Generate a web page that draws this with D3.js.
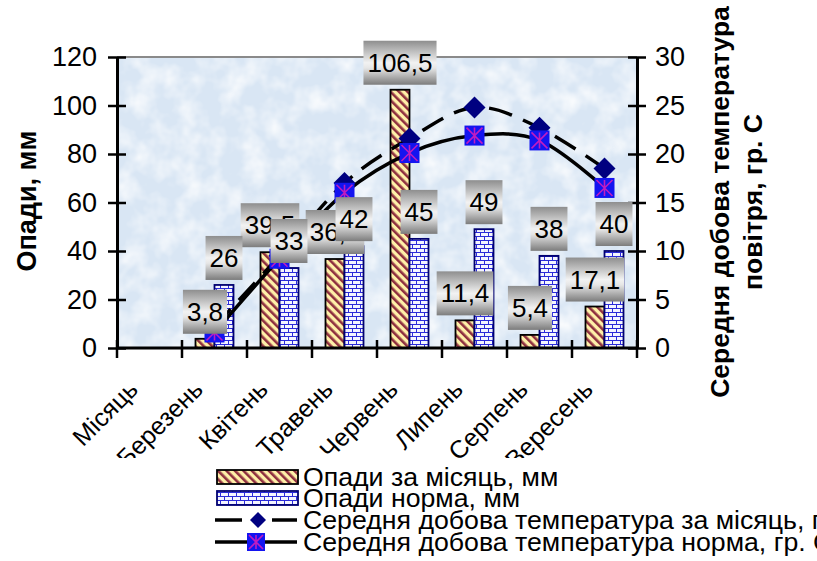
<!DOCTYPE html>
<html>
<head>
<meta charset="utf-8">
<script src="https://cdn.jsdelivr.net/npm/d3@7"></script>
<style>
  body { margin: 0; background: #fff; }
  svg text { font-family: "Liberation Sans", Arial, sans-serif; }
</style>
</head>
<body>
<div id="chart"></div>
<script>
// data
const categories = ["Місяць", "Березень", "Квітень", "Травень", "Червень", "Липень", "Серпень", "Вересень"];
const precipActual = [null, 3.8, 39.5, 36.7, 106.5, 11.4, 5.4, 17.1];
const precipNorm = [null, 26, 33, 42, 45, 49, 38, 40];
const tempActual = [null, 2.2, 9.5, 17.0, 21.6, 24.8, 22.7, 18.5];
const tempNorm = [null, 1.6, 9.2, 16.0, 20.1, 21.9, 21.4, 16.5];
const leftTicks = [0, 20, 40, 60, 80, 100, 120];
const rightTicks = [0, 5, 10, 15, 20, 25, 30];
const legendLabels = [
  "Опади за місяць, мм",
  "Опади норма, мм",
  "Середня добова температура за місяць, гр. С",
  "Середня добова температура норма, гр. С"
];

let w = 817, h = 561;
let pLeft = 117, pRight = 637, pTop = 57, pBottom = 348;

let svg = d3.select("#chart").append("svg")
  .attr("width", w)
  .attr("height", h)

let defs = svg.append("defs")

// diagonal stripes for monthly precipitation
let stripes = defs.append("pattern")
  .attr("id", "stripes")
  .attr("patternUnits", "userSpaceOnUse")
  .attr("width", 6).attr("height", 6)
  .attr("patternTransform", "rotate(-45)")
stripes.append("rect").attr("width", 6).attr("height", 6).attr("fill", "#fff0a8")
stripes.append("rect").attr("x", 0).attr("width", 2.6).attr("height", 6).attr("fill", "#8e2f3f")

// bricks for the norm
let bricks = defs.append("pattern")
  .attr("id", "bricks")
  .attr("patternUnits", "userSpaceOnUse")
  .attr("width", 8).attr("height", 8)
bricks.append("rect").attr("width", 8).attr("height", 8).attr("fill", "#f4f5ff")
bricks.append("path")
  .attr("d", "M0,0.5H8M0,4.5H8M0.5,0.5V4.5M4.5,4.5V8")
  .attr("stroke", "#2b2bd8").attr("stroke-width", 1).attr("fill", "none")

let grad = defs.append("linearGradient")
  .attr("id", "labelGrad")
  .attr("x1", 0).attr("y1", 0).attr("x2", 0).attr("y2", 1)
grad.append("stop").attr("offset", "0%").attr("stop-color", "#8e8e8e")
grad.append("stop").attr("offset", "50%").attr("stop-color", "#f2f2f2")
grad.append("stop").attr("offset", "62%").attr("stop-color", "#e6e6e6")
grad.append("stop").attr("offset", "100%").attr("stop-color", "#7c7c7c")

// soft mottled texture for the plot area
let tex = defs.append("filter").attr("id", "texture")
  .attr("x", 0).attr("y", 0).attr("width", 1).attr("height", 1)
tex.append("feTurbulence")
  .attr("type", "fractalNoise").attr("baseFrequency", 0.045)
  .attr("numOctaves", 3).attr("seed", 4)
tex.append("feColorMatrix")
  .attr("type", "matrix")
  .attr("values", "0 0 0 0 1  0 0 0 0 1  0 0 0 0 1  1.6 0 0 0 -0.6")

let x = d3.scaleBand().domain(categories).range([pLeft, pRight])
let xs = d3.scaleBand().domain(["a", "n"]).range([13.5, 51.5])
let yL = d3.scaleLinear().domain([0, 120]).range([pBottom, pTop])
let yR = d3.scaleLinear().domain([0, 30]).range([pBottom, pTop])

// plot area
svg.append("rect")
  .attr("x", pLeft).attr("y", pTop)
  .attr("width", pRight - pLeft).attr("height", pBottom - pTop)
  .attr("fill", "#d9e6f4")
svg.append("rect")
  .attr("x", pLeft).attr("y", pTop)
  .attr("width", pRight - pLeft).attr("height", pBottom - pTop)
  .attr("filter", "url(#texture)")
svg.append("line")
  .attr("x1", pLeft).attr("x2", pRight).attr("y1", pTop).attr("y2", pTop)
  .attr("stroke", "#8a8a8a").attr("stroke-width", 2)

// bars
let barData = [];
categories.forEach(function(c, i) {
  if (precipActual[i] != null) barData.push({cat: c, key: "a", v: precipActual[i]});
  if (precipNorm[i] != null) barData.push({cat: c, key: "n", v: precipNorm[i]});
});

svg.append("g").selectAll("rect")
  .data(barData)
  .join("rect")
  .attr("x", d => x(d.cat) + xs(d.key))
  .attr("y", d => yL(d.v))
  .attr("width", xs.bandwidth())
  .attr("height", d => yL(0) - yL(d.v))
  .attr("fill", d => d.key === "a" ? "url(#stripes)" : "url(#bricks)")
  .attr("stroke", d => d.key === "a" ? "#000" : "#000070")
  .attr("stroke-width", 1.8)

// temperature lines
let line = d3.line()
  .defined(d => d.v != null)
  .x(d => x(d.cat) + x.bandwidth() / 2)
  .y(d => yR(d.v))
  .curve(d3.curveCardinal.tension(0))

let tA = categories.map((c, i) => ({cat: c, v: tempActual[i]}));
let tN = categories.map((c, i) => ({cat: c, v: tempNorm[i]}));

svg.append("path")
  .datum(tN)
  .attr("d", line)
  .attr("fill", "none").attr("stroke", "#000").attr("stroke-width", 3.5)

svg.append("path")
  .datum(tA)
  .attr("d", line)
  .attr("fill", "none").attr("stroke", "#000").attr("stroke-width", 3.5)
  .attr("stroke-dasharray", "24,12")

function diamond(g, cx, cy, r) {
  g.append("path")
    .attr("d", `M${cx},${cy - r}L${cx + r},${cy}L${cx},${cy + r}L${cx - r},${cy}Z`)
    .attr("fill", "#000080")
}

function starSquare(g, cx, cy, s) {
  let hs = s / 2;
  g.append("rect")
    .attr("x", cx - hs).attr("y", cy - hs).attr("width", s).attr("height", s)
    .attr("fill", "#1414f0")
  let k = hs - 2;
  g.append("path")
    .attr("d", `M${cx},${cy - k}V${cy + k}M${cx - k},${cy - k}L${cx + k},${cy + k}M${cx + k},${cy - k}L${cx - k},${cy + k}`)
    .attr("stroke", "#c01cc0").attr("stroke-width", 1.6)
}

let markers = svg.append("g")
tA.filter(d => d.v != null).forEach(function(d) {
  diamond(markers, x(d.cat) + x.bandwidth() / 2, yR(d.v), 11)
});
tN.filter(d => d.v != null).forEach(function(d) {
  starSquare(markers, x(d.cat) + x.bandwidth() / 2, yR(d.v), 20)
});

// axes
let axisL = svg.append("g").attr("transform", `translate(${pLeft},0)`)
  .call(d3.axisLeft(yL).tickValues(leftTicks).tickSize(0).tickPadding(20))
let axisR = svg.append("g").attr("transform", `translate(${pRight},0)`)
  .call(d3.axisRight(yR).tickValues(rightTicks).tickSize(0).tickPadding(18))
;[axisL, axisR].forEach(function(a) {
  a.select(".domain").attr("stroke", "#000").attr("stroke-width", 3)
  a.selectAll(".tick text").attr("font-size", 27).attr("fill", "#000")
    .attr("font-family", "Liberation Sans, Arial, sans-serif")
  a.selectAll(".tick").append("line")
    .attr("x1", -9).attr("x2", 9).attr("stroke", "#000").attr("stroke-width", 2.5)
});

let axisB = svg.append("g")
axisB.append("line")
  .attr("x1", pLeft).attr("x2", pRight).attr("y1", pBottom).attr("y2", pBottom)
  .attr("stroke", "#000").attr("stroke-width", 3)
axisB.selectAll(".tk")
  .data(categories.concat(["end"]))
  .join("line")
  .attr("class", "tk")
  .attr("x1", (d, i) => pLeft + i * x.step()).attr("x2", (d, i) => pLeft + i * x.step())
  .attr("y1", pBottom - 8).attr("y2", pBottom + 10)
  .attr("stroke", "#000").attr("stroke-width", 2.5)
axisB.selectAll(".lbl")
  .data(categories)
  .join("text")
  .attr("class", "lbl")
  .attr("transform", d => `translate(${x(d) + x.bandwidth() / 2 - 10},391) rotate(-45)`)
  .attr("text-anchor", "end")
  .attr("font-size", 25)
  .text(d => d)

// data labels: actual first, norm over them
let labels = svg.append("g")
function fmt(v) { return String(v).replace(".", ","); }
["a", "n"].forEach(function(key) {
  barData.filter(d => d.key === key).forEach(function(d) {
    let cx = x(d.cat) + xs(d.key) + xs.bandwidth() / 2;
    let by = yL(d.v) - 5;
    let g = labels.append("g")
    let box = g.append("rect").attr("fill", "url(#labelGrad)")
    let t = g.append("text")
      .attr("x", cx).attr("y", by - 13)
      .attr("text-anchor", "middle")
      .attr("font-size", 26)
      .text(fmt(d.v))
    let tw = t.node().getComputedTextLength();
    box.attr("x", cx - tw / 2 - 4).attr("y", by - 44)
      .attr("width", tw + 8).attr("height", 44)
  });
});

// axis titles
svg.append("text")
  .attr("transform", "translate(36,201) rotate(-90)")
  .attr("text-anchor", "middle")
  .attr("font-size", 27).attr("font-weight", "bold")
  .text("Опади, мм")

let rt = svg.append("text")
  .attr("transform", "translate(729,202) rotate(-90)")
  .attr("text-anchor", "middle")
  .attr("font-size", 26.5).attr("font-weight", "bold")
rt.append("tspan").attr("x", 0).attr("dy", 0).text("Середня добова температура")
rt.append("tspan").attr("x", 0).attr("dy", 33).text("повітря, гр. С")

// legend (its white box hides the tail of the long month names)
let lg = svg.append("g")
lg.append("rect")
  .attr("x", 100).attr("y", 458).attr("width", w - 100).attr("height", h - 458)
  .attr("fill", "#fff")

let rowY = [477, 498, 520, 542];
lg.append("rect").attr("x", 217).attr("y", rowY[0] - 7).attr("width", 81).attr("height", 14)
  .attr("fill", "url(#stripes)").attr("stroke", "#000").attr("stroke-width", 1.8)
lg.append("rect").attr("x", 217).attr("y", rowY[1] - 7).attr("width", 81).attr("height", 14)
  .attr("fill", "url(#bricks)").attr("stroke", "#000070").attr("stroke-width", 1.8)
lg.append("path")
  .attr("d", `M215,${rowY[2]}H242M272,${rowY[2]}H297`)
  .attr("stroke", "#000").attr("stroke-width", 3.5)
diamond(lg, 258, rowY[2], 8)
lg.append("path")
  .attr("d", `M215,${rowY[3]}H297`)
  .attr("stroke", "#000").attr("stroke-width", 3.5)
starSquare(lg, 256, rowY[3], 18)

lg.selectAll(".lt")
  .data(legendLabels)
  .join("text")
  .attr("class", "lt")
  .attr("x", 303)
  .attr("y", (d, i) => rowY[i] + 9)
  .attr("font-size", 26.7)
  .text(d => d)
</script>
</body>
</html>
